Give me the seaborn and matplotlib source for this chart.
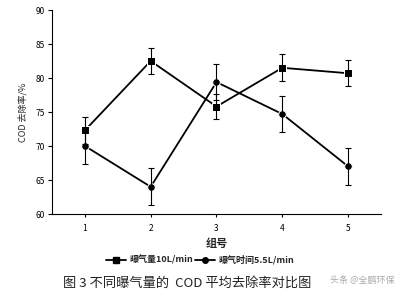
import matplotlib
matplotlib.use("Agg")
import matplotlib.pyplot as plt
import seaborn as sns
import pandas as pd
from matplotlib.lines import Line2D

groups = [1, 2, 3, 4, 5]
s1_name = "曝气量10L/min"
s1_vals = [72.3, 82.5, 75.8, 81.5, 80.7]
s1_err = [2.0, 1.9, 1.9, 2.0, 1.9]
s2_name = "曝气时间5.5L/min"
s2_vals = [70.0, 64.0, 79.4, 74.7, 67.0]
s2_err = [2.7, 2.7, 2.6, 2.7, 2.7]
yticks = [60, 65, 70, 75, 80, 85, 90]

sns.set_theme(style="white")
plt.rcParams['font.family'] = ['Noto Sans CJK SC', 'DejaVu Sans']

df = pd.DataFrame({
    "组号": groups * 2,
    "val": s1_vals + s2_vals,
    "series": [s1_name] * 5 + [s2_name] * 5,
})

fig = plt.figure(figsize=(4.04, 2.93), dpi=100)
ax = fig.add_axes([52/404, 1 - 214/293, (381-52)/404, (214-10)/293])

sns.lineplot(data=df, x="组号", y="val", hue="series", style="series",
             markers={s1_name: "s", s2_name: "o"}, dashes=False,
             palette={s1_name: "black", s2_name: "black"},
             markersize=5.5, linewidth=1.3, ax=ax, legend=False)
ax.errorbar(groups, s1_vals, yerr=s1_err, fmt="none", ecolor="black",
            elinewidth=0.8, capsize=2.5, capthick=0.8)
ax.errorbar(groups, s2_vals, yerr=s2_err, fmt="none", ecolor="black",
            elinewidth=0.8, capsize=2.5, capthick=0.8)

ax.set_xlim(0.5, 5.5)
ax.set_ylim(60, 90)
ax.set_yticks(yticks)
ax.set_xticks(groups)
ax.tick_params(axis="both", labelsize=6, colors="black", length=3, width=0.8,
               direction="out", pad=2)
ax.tick_params(axis="x", length=2, pad=5)
ax.tick_params(left=True, bottom=True)
for side in ["top", "right"]:
    ax.spines[side].set_visible(False)
for side in ["left", "bottom"]:
    ax.spines[side].set_color("black")
    ax.spines[side].set_linewidth(0.8)
ax.set_xlabel("组号", fontsize=8, labelpad=3, fontweight="bold")
ax.set_ylabel("COD 去除率/%", fontsize=6.5, labelpad=6)

handles = [Line2D([], [], color="black", marker="s", markersize=4, linewidth=1.3),
           Line2D([], [], color="black", marker="o", markersize=4, linewidth=1.3)]
fig.legend(handles, [s1_name, s2_name], loc="center", bbox_to_anchor=(200/404, 1 - 260/293),
           ncol=2, frameon=False, handlelength=2.2, handletextpad=0.3,
           columnspacing=0.3, prop={"size": 6.5, "weight": "bold"})

fig.text(63/404, 1 - 283/293, "图 3 不同曝气量的  COD 平均去除率对比图", fontsize=9.5,
         ha="left", va="center", color="#222222")
fig.text(395/404, 1 - 280/293, "头条 @全鹏环保", fontsize=6.5, ha="right", va="center",
         color="#aaaaaa")

fig.savefig("out.png", dpi=100)
